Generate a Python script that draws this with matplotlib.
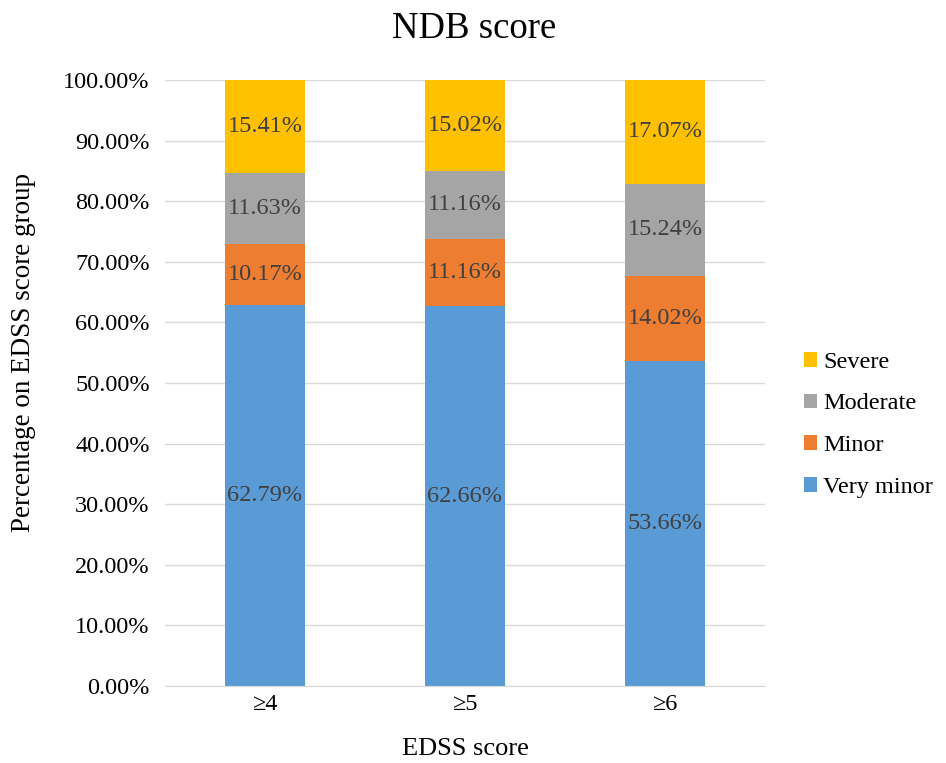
import matplotlib.pyplot as plt
import numpy as np

plt.rcParams['font.family'] = ['Liberation Serif', 'DejaVu Serif']

groups = ["≥4", "≥5", "≥6"]
very_minor = [62.79, 62.66, 53.66]
minor = [10.17, 11.16, 14.02]
moderate = [11.63, 11.16, 15.24]
severe = [15.41, 15.02, 17.07]

series = [("Very minor", very_minor, "#5B9BD5"),
          ("Minor", minor, "#ED7D31"),
          ("Moderate", moderate, "#A5A5A5"),
          ("Severe", severe, "#FFC000")]

fig = plt.figure(figsize=(9.46, 7.63), dpi=100)
ax = fig.add_axes([165 / 946, 77 / 763, 600 / 946, 606 / 763])

x = np.arange(len(groups))
bottom = np.zeros(len(groups))
for name, vals, col in series:
    vals = np.array(vals)
    ax.bar(x, vals, 0.4, bottom=bottom, color=col, label=name, zorder=2)
    for xi, b, v in zip(x, bottom, vals):
        ax.text(xi, b + v / 2, f"{v:.2f}%", ha="center", va="center",
                fontsize=17.5, color="#404040", zorder=3)
    bottom += vals

ax.set_xlim(-0.5, 2.5)
ax.set_ylim(0, 100)
ax.set_yticks(np.arange(0, 101, 10))
ax.set_yticklabels([f"{t:.2f}%" for t in np.arange(0, 101, 10)], fontsize=17.5)
ax.set_xticks(x)
ax.set_xticklabels(groups, fontsize=17.5)
ax.tick_params(axis="y", length=0, pad=11)
ax.tick_params(axis="x", length=0, pad=6)
ax.yaxis.grid(True, color="#D9D9D9", linewidth=1, zorder=0)
for s in ["top", "right", "left"]:
    ax.spines[s].set_visible(False)
ax.spines["bottom"].set_color("#D9D9D9")

ax.set_title("NDB score", fontsize=26.5, pad=30, x=0.515)
ax.set_xlabel("EDSS score", fontsize=19, labelpad=16)
ax.set_ylabel("Percentage on EDSS score group", fontsize=19.5)
ax.yaxis.set_label_coords(-0.215, 0.551)

h, l = ax.get_legend_handles_labels()
ax.legend(h[::-1], l[::-1], loc="center left", bbox_to_anchor=(1.028, 0.431),
          frameon=False, fontsize=17.5, handlelength=0.55, handleheight=0.55,
          labelspacing=0.85, handletextpad=0.25)

fig.savefig("out.png", dpi=100)
